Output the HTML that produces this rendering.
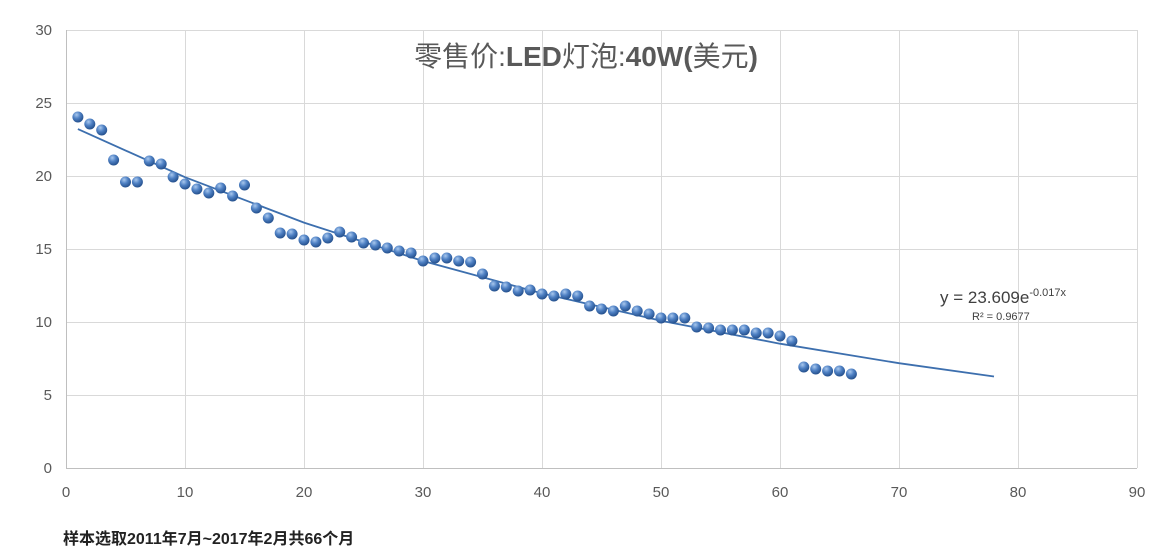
<!DOCTYPE html>
<html><head><meta charset="utf-8"><style>
html,body{margin:0;padding:0;background:#fff;width:1168px;height:553px;overflow:hidden}
svg text{font-family:"Liberation Sans","Noto Sans CJK SC",sans-serif}
</style></head><body>
<svg width="1168" height="553" viewBox="0 0 1168 553" xmlns="http://www.w3.org/2000/svg">
<defs><radialGradient id="g" cx="0.38" cy="0.3" r="0.75"><stop offset="0" stop-color="#a9c8ee"/><stop offset="0.45" stop-color="#4f81c4"/><stop offset="1" stop-color="#1f4a86"/></radialGradient></defs>
<g stroke="#d9d9d9" stroke-width="1">
<line x1="66" y1="30.5" x2="1137" y2="30.5"/><line x1="66" y1="103.5" x2="1137" y2="103.5"/><line x1="66" y1="176.5" x2="1137" y2="176.5"/><line x1="66" y1="249.5" x2="1137" y2="249.5"/><line x1="66" y1="322.5" x2="1137" y2="322.5"/><line x1="66" y1="395.5" x2="1137" y2="395.5"/>
<line x1="185.5" y1="30" x2="185.5" y2="468"/><line x1="304.5" y1="30" x2="304.5" y2="468"/><line x1="423.5" y1="30" x2="423.5" y2="468"/><line x1="542.5" y1="30" x2="542.5" y2="468"/><line x1="661.5" y1="30" x2="661.5" y2="468"/><line x1="780.5" y1="30" x2="780.5" y2="468"/><line x1="899.5" y1="30" x2="899.5" y2="468"/><line x1="1018.5" y1="30" x2="1018.5" y2="468"/><line x1="1137.5" y1="30" x2="1137.5" y2="468"/>
</g>
<g stroke="#bfbfbf"><line x1="66.5" y1="30" x2="66.5" y2="468"/><line x1="66" y1="468.5" x2="1137" y2="468.5"/></g>
<g font-size="15" fill="#595959" text-anchor="end">
<text x="52" y="35">30</text><text x="52" y="108">25</text><text x="52" y="181">20</text><text x="52" y="254">15</text><text x="52" y="327">10</text><text x="52" y="400">5</text><text x="52" y="473">0</text></g>
<g font-size="15" fill="#595959" text-anchor="middle">
<text x="66" y="497">0</text><text x="185" y="497">10</text><text x="304" y="497">20</text><text x="423" y="497">30</text><text x="542" y="497">40</text><text x="661" y="497">50</text><text x="780" y="497">60</text><text x="899" y="497">70</text><text x="1018" y="497">80</text><text x="1137" y="497">90</text></g>
<text x="586" y="66" font-size="28" fill="#595959" text-anchor="middle">零售价:<tspan font-weight="bold">LED</tspan>灯泡:<tspan font-weight="bold">40W(</tspan>美元<tspan font-weight="bold">)</tspan></text>
<polyline fill="none" stroke="#3d6fae" stroke-width="1.8" points="77.9,129.1 185,177.2 304,222.6 423,261 542,293.4 661,320.7 780,343.7 899,363.2 994,376.5"/>
<g fill="url(#g)">
<circle cx="77.9" cy="117" r="5.5"/><circle cx="89.8" cy="124" r="5.5"/><circle cx="101.7" cy="130" r="5.5"/><circle cx="113.6" cy="160" r="5.5"/><circle cx="125.5" cy="182" r="5.5"/><circle cx="137.4" cy="182" r="5.5"/><circle cx="149.3" cy="161" r="5.5"/><circle cx="161.2" cy="164" r="5.5"/><circle cx="173.1" cy="177" r="5.5"/><circle cx="185" cy="184" r="5.5"/>
<circle cx="196.9" cy="189" r="5.5"/><circle cx="208.8" cy="193" r="5.5"/><circle cx="220.7" cy="188" r="5.5"/><circle cx="232.6" cy="196" r="5.5"/><circle cx="244.5" cy="185" r="5.5"/><circle cx="256.4" cy="208" r="5.5"/><circle cx="268.3" cy="218" r="5.5"/><circle cx="280.2" cy="233" r="5.5"/><circle cx="292.1" cy="234" r="5.5"/><circle cx="304" cy="240" r="5.5"/>
<circle cx="315.9" cy="242" r="5.5"/><circle cx="327.8" cy="238" r="5.5"/><circle cx="339.7" cy="232" r="5.5"/><circle cx="351.6" cy="237" r="5.5"/><circle cx="363.5" cy="243" r="5.5"/><circle cx="375.4" cy="245" r="5.5"/><circle cx="387.3" cy="248" r="5.5"/><circle cx="399.2" cy="251" r="5.5"/><circle cx="411.1" cy="253" r="5.5"/><circle cx="423" cy="261" r="5.5"/>
<circle cx="434.9" cy="258" r="5.5"/><circle cx="446.8" cy="258" r="5.5"/><circle cx="458.7" cy="261" r="5.5"/><circle cx="470.6" cy="262" r="5.5"/><circle cx="482.5" cy="274" r="5.5"/><circle cx="494.4" cy="286" r="5.5"/><circle cx="506.3" cy="287" r="5.5"/><circle cx="518.2" cy="291" r="5.5"/><circle cx="530.1" cy="290" r="5.5"/><circle cx="542" cy="294" r="5.5"/>
<circle cx="553.9" cy="296" r="5.5"/><circle cx="565.8" cy="294" r="5.5"/><circle cx="577.7" cy="296" r="5.5"/><circle cx="589.6" cy="306" r="5.5"/><circle cx="601.5" cy="309" r="5.5"/><circle cx="613.4" cy="311" r="5.5"/><circle cx="625.3" cy="306" r="5.5"/><circle cx="637.2" cy="311" r="5.5"/><circle cx="649.1" cy="314" r="5.5"/><circle cx="661" cy="318" r="5.5"/>
<circle cx="672.9" cy="318" r="5.5"/><circle cx="684.8" cy="318" r="5.5"/><circle cx="696.7" cy="327" r="5.5"/><circle cx="708.6" cy="328" r="5.5"/><circle cx="720.5" cy="330" r="5.5"/><circle cx="732.4" cy="330" r="5.5"/><circle cx="744.3" cy="330" r="5.5"/><circle cx="756.2" cy="333" r="5.5"/><circle cx="768.1" cy="333" r="5.5"/><circle cx="780" cy="336" r="5.5"/>
<circle cx="791.9" cy="341" r="5.5"/><circle cx="803.8" cy="367" r="5.5"/><circle cx="815.7" cy="369" r="5.5"/><circle cx="827.6" cy="371" r="5.5"/><circle cx="839.5" cy="371" r="5.5"/><circle cx="851.4" cy="374" r="5.5"/>
</g>
<text x="940" y="303" font-size="17" fill="#404040">y = 23.609e<tspan font-size="11" dy="-7">-0.017x</tspan></text>
<text x="972" y="320" font-size="11" fill="#404040">R² = 0.9677</text>
<text x="63" y="544" font-size="16" font-weight="bold" fill="#222" font-family="'Liberation Serif','Noto Serif CJK SC',serif">样本选取2011年7月~2017年2月共66个月</text>
</svg>
</body></html>
